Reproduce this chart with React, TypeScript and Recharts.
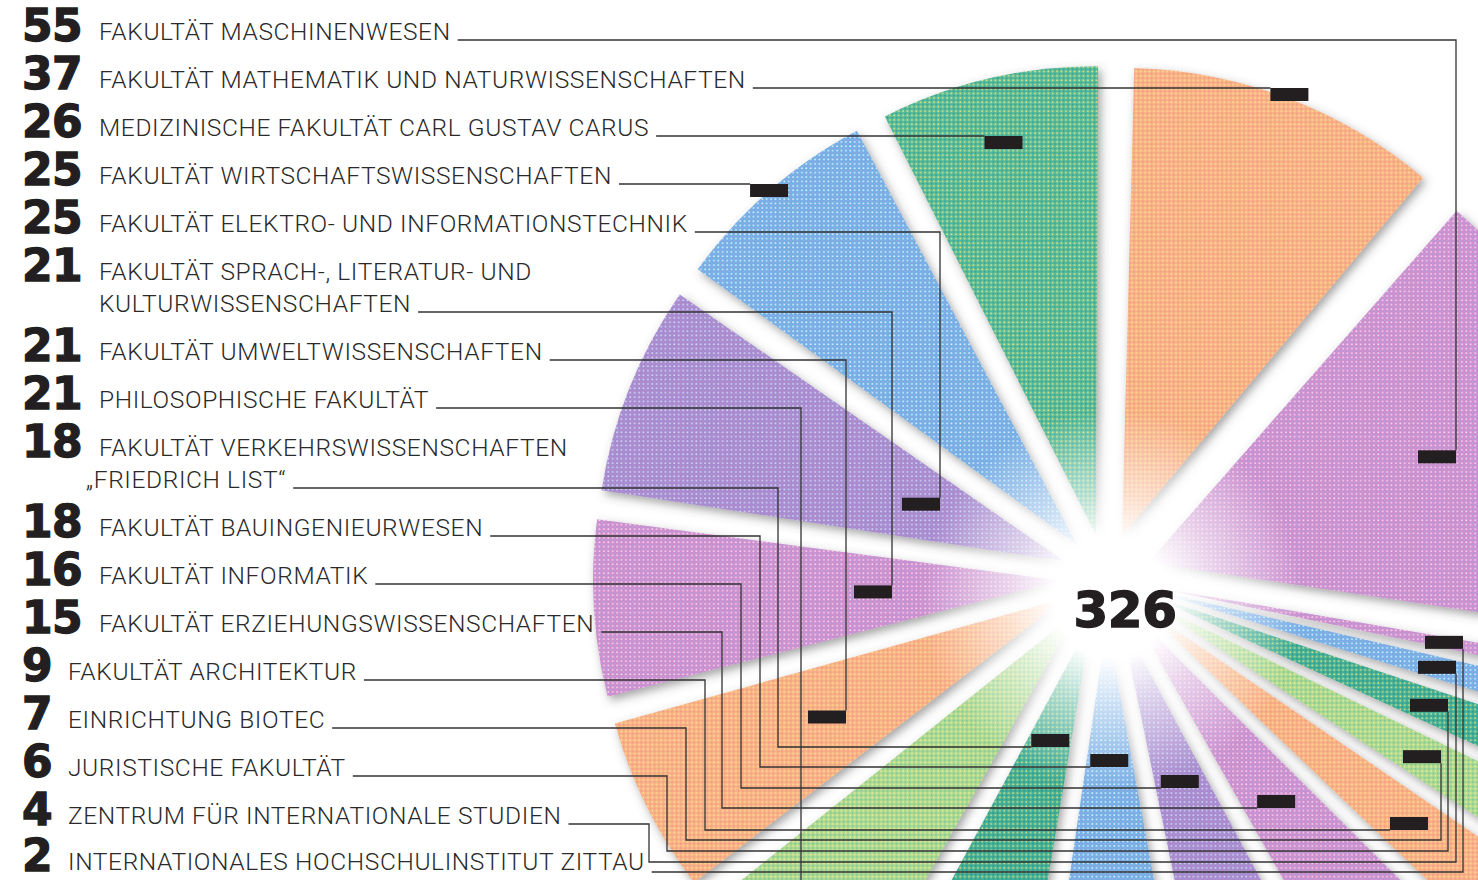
import { useLayoutEffect, useRef, useState } from "react"
import { PieChart, Pie, Sector } from "recharts"

// legend order, top to bottom as printed
const NAMES: string[][] = [
  ["FAKULTÄT MASCHINENWESEN"],
  ["FAKULTÄT MATHEMATIK UND NATURWISSENSCHAFTEN"],
  ["MEDIZINISCHE FAKULTÄT CARL GUSTAV CARUS"],
  ["FAKULTÄT WIRTSCHAFTSWISSENSCHAFTEN"],
  ["FAKULTÄT ELEKTRO- UND INFORMATIONSTECHNIK"],
  ["FAKULTÄT SPRACH-, LITERATUR- UND", "KULTURWISSENSCHAFTEN"],
  ["FAKULTÄT UMWELTWISSENSCHAFTEN"],
  ["PHILOSOPHISCHE FAKULTÄT"],
  ["FAKULTÄT VERKEHRSWISSENSCHAFTEN", "„FRIEDRICH LIST“"],
  ["FAKULTÄT BAUINGENIEURWESEN"],
  ["FAKULTÄT INFORMATIK"],
  ["FAKULTÄT ERZIEHUNGSWISSENSCHAFTEN"],
  ["FAKULTÄT ARCHITEKTUR"],
  ["EINRICHTUNG BIOTEC"],
  ["JURISTISCHE FAKULTÄT"],
  ["ZENTRUM FÜR INTERNATIONALE STUDIEN"],
  ["INTERNATIONALES HOCHSCHULINSTITUT ZITTAU"],
]
const COUNTS = [55, 37, 26, 25, 25, 21, 21, 21, 18, 18, 16, 15, 9, 7, 6, 4, 2]
// clockwise from 12 o'clock, as index into the legend
const PIE_ORDER = [1, 0, 16, 15, 14, 13, 12, 11, 10, 9, 8, 7, 6, 5, 4, 3, 2]

const ROW_COLOR = [
  "purple", "orange", "green", "blue", "violet", "purple", "orange", "lime", "teal",
  "blue", "violet", "purple", "orange", "lime", "teal", "blue", "purple",
]

const TEXTURES: Record<string, { base: string; light: string; dot: string }> = {
  orange: { base: "#f8b186", light: "#fee28e", dot: "#ef8d86" },
  purple: { base: "#cf8dcd", light: "#f3daf0", dot: "#9aafe3" },
  violet: { base: "#a28dd1", light: "#dfd6f2", dot: "#d480c2" },
  blue: { base: "#70b0e6", light: "#e5f1fb", dot: "#b69dd9" },
  green: { base: "#57ba9b", light: "#e8e67e", dot: "#26998a" },
  teal: { base: "#45af98", light: "#d8e380", dot: "#1f9180" },
  lime: { base: "#abd891", light: "#f1ef94", dot: "#61c09b" },
}

// leader routing (layout only)
const ROW_Y = [40, 88, 136, 184, 232, 312, 360, 408, 488, 536, 584, 632, 680, 728, 776, 824, 872]
type Route = { x1?: number; y2?: number; x2?: number }
const ROUTES: Route[] = [
  { x1: 1456 }, {}, {}, {}, { x1: 940 }, { x1: 892 }, { x1: 846 }, { x1: 801 },
  { x1: 778, y2: 747 }, { x1: 760, y2: 767 }, { x1: 741, y2: 788 }, { x1: 722, y2: 808 },
  { x1: 705, y2: 830 }, { x1: 686, y2: 840, x2: 1441 }, { x1: 667, y2: 851, x2: 1448 },
  { x1: 649, y2: 862, x2: 1456 }, { x2: 1463 },
]

const W = 1478
const H = 880
const CX = 1106
const CY = 578
const R = 468
const EXPLODE = 45
const BOX_W = 38
const BOX_H = 13
const RAD = Math.PI / 180
const INK = "#231f20"

const pieData = PIE_ORDER.map((row) => ({ name: NAMES[row].join(" "), value: COUNTS[row], row }))
const total = COUNTS.reduce((a, b) => a + b, 0)

const dir = (deg: number) => ({ x: Math.cos(deg * RAD), y: -Math.sin(deg * RAD) })

function buildLeader(x0: number, y0: number, route: Route, ax: number, ay: number, u: { x: number; y: number }) {
  const pts: number[][] = [[x0, y0]]
  let y = y0
  let lastX = x0
  let vert: number | null = null
  if (route.x1 != null) {
    pts.push([route.x1, y])
    lastX = route.x1
    if (route.y2 != null) {
      y = route.y2
      pts.push([route.x1, y])
      if (route.x2 != null) vert = route.x2
    } else vert = route.x1
  } else if (route.x2 != null) vert = route.x2

  let box
  if (vert != null) {
    if (vert !== lastX) pts.push([vert, y])
    const t = (vert - BOX_W / 2 - ax) / u.x
    const by = ay + t * u.y
    const top = by - BOX_H / 2
    pts.push([vert, y < by ? top : top + BOX_H])
    box = { x: vert - BOX_W, y: top }
  } else {
    const above = route.y2 != null
    const mid = above ? y - BOX_H / 2 : y + BOX_H / 2
    const t = (mid - ay) / u.y
    const bx = ax + t * u.x - BOX_W / 2
    pts.push([bx, y])
    box = { x: bx, y: above ? y - BOX_H : y }
  }
  const d = pts.map((p, i) => `${i ? "L" : "M"}${p[0].toFixed(1)},${p[1].toFixed(1)}`).join("")
  return { d, box }
}

function LegendEntry({ row, ax, ay, u }: { row: number; ax: number; ay: number; u: { x: number; y: number } }) {
  const ref = useRef<SVGTextElement>(null)
  const [end, setEnd] = useState<number | null>(null)
  const lines = NAMES[row]
  const rowY = ROW_Y[row]
  const firstY = rowY - (lines.length - 1) * 32
  const nameX = COUNTS[row] >= 10 ? 99 : 68
  const lastRow = row === NAMES.length - 1

  useLayoutEffect(() => {
    if (ref.current) {
      const bb = ref.current.getBBox()
      setEnd(bb.x + bb.width)
    }
  }, [])

  const leader = end != null ? buildLeader(end + 7, rowY, ROUTES[row], ax, ay, u) : null

  return (
    <g>
      <text
        x={22}
        y={lastRow ? firstY - 1 : firstY + 1}
        fontFamily="DejaVu Sans, sans-serif"
        fontWeight={700}
        fontSize={44}
        fill={INK}
        stroke={INK}
        strokeWidth={1.3}
        letterSpacing={-0.5}
      >
        {COUNTS[row]}
      </text>
      {lines.map((line, i) => (
        <text
          key={i}
          ref={i === lines.length - 1 ? ref : undefined}
          x={line.startsWith("„") ? 86 : i > 0 ? 99 : nameX}
          y={lastRow ? firstY - 2 : firstY + i * 32}
          fontFamily="Roboto, sans-serif"
          fontWeight={300}
          fontSize={24.5}
          letterSpacing={0.62}
          fill="#2a2a2a"
        >
          {line}
        </text>
      ))}
      {leader && (
        <>
          <path d={leader.d} fill="none" stroke="#333" strokeWidth={1.3} />
          <rect x={leader.box.x} y={leader.box.y} width={BOX_W} height={BOX_H} fill={INK} />
        </>
      )}
    </g>
  )
}

const renderSlice = (p: any) => {
  const { cx, cy, startAngle, endAngle, outerRadius, index } = p
  const u = dir((startAngle + endAngle) / 2)
  const row = PIE_ORDER[index]
  return (
    <Sector
      cx={cx + EXPLODE * u.x}
      cy={cy + EXPLODE * u.y}
      innerRadius={0}
      outerRadius={outerRadius}
      startAngle={startAngle}
      endAngle={endAngle}
      fill={`url(#tex-${ROW_COLOR[row]})`}
      filter="url(#softShadow)"
    />
  )
}

const renderNote = (p: any) => {
  const { cx, cy, startAngle, endAngle, index } = p
  const u = dir((startAngle + endAngle) / 2)
  const row = PIE_ORDER[index]
  return (
    <g>
      {index === 0 && <circle cx={cx + 6} cy={cy + 22} r={190} fill="url(#centerGlow)" />}
      <LegendEntry row={row} ax={cx + EXPLODE * u.x} ay={cy + EXPLODE * u.y} u={u} />
      {index === pieData.length - 1 && (
        <text
          x={cx + 19}
          y={cy + 49}
          textAnchor="middle"
          fontFamily="DejaVu Sans, sans-serif"
          fontWeight={700}
          fontSize={50}
          fill={INK}
          stroke={INK}
          strokeWidth={1.4}
          letterSpacing={-0.5}
        >
          {total}
        </text>
      )}
    </g>
  )
}

export default function App() {
  return (
    <div style={{ width: W, height: H, overflow: "hidden", background: "#fff", position: "relative" }}>
      <style>{"body{margin:0}"}</style>
      <svg width={0} height={0} style={{ position: "absolute" }}>
        <defs>
          {Object.entries(TEXTURES).map(([k, c]) => (
            <pattern key={k} id={`tex-${k}`} width={4.4} height={4.4} patternUnits="userSpaceOnUse">
              <rect width={4.4} height={4.4} fill={c.base} />
              <circle cx={1.1} cy={1.1} r={0.95} fill={c.light} />
              <circle cx={3.3} cy={3.3} r={0.75} fill={c.dot} />
            </pattern>
          ))}
          <filter id="softShadow" filterUnits="userSpaceOnUse" x={0} y={0} width={W} height={H}>
            <feDropShadow dx={3} dy={4} stdDeviation={5} floodColor="#4a4a4a" floodOpacity={0.5} />
          </filter>
          <radialGradient id="centerGlow">
            <stop offset="0%" stopColor="#fff" stopOpacity={1} />
            <stop offset="30%" stopColor="#fff" stopOpacity={1} />
            <stop offset="55%" stopColor="#fff" stopOpacity={0.6} />
            <stop offset="100%" stopColor="#fff" stopOpacity={0} />
          </radialGradient>
        </defs>
      </svg>
      <PieChart width={W} height={H} margin={{ top: 0, right: 0, bottom: 0, left: 0 }}>
        <Pie
          data={pieData}
          dataKey="value"
          nameKey="name"
          cx={CX}
          cy={CY}
          innerRadius={0}
          outerRadius={R}
          startAngle={88.5}
          endAngle={-271.5}
          paddingAngle={1.2}
          fill="transparent"
          stroke="none"
          label={renderSlice}
          labelLine={false}
          isAnimationActive={false}
        />
        <Pie
          data={pieData}
          dataKey="value"
          nameKey="name"
          cx={CX}
          cy={CY}
          innerRadius={0}
          outerRadius={R}
          startAngle={88.5}
          endAngle={-271.5}
          paddingAngle={1.2}
          fill="transparent"
          stroke="none"
          label={renderNote}
          labelLine={false}
          isAnimationActive={false}
        />
      </PieChart>
    </div>
  )
}
